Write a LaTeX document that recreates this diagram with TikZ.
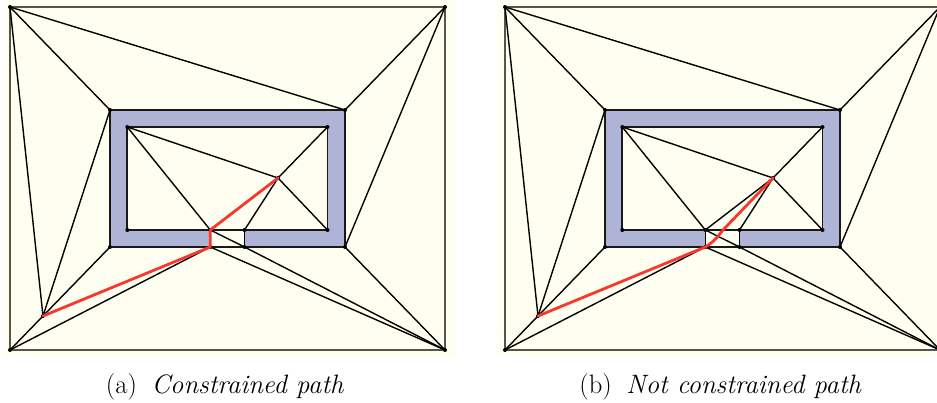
\documentclass[tikz,border=0pt]{standalone}
\usepackage{fontspec}
\definecolor{panelbg}{RGB}{255,255,241}
\definecolor{wallblue}{RGB}{175,180,214}
\definecolor{framegray}{RGB}{85,85,75}
\definecolor{pathred}{RGB}{250,55,45}
\tikzset{
  mesh/.style={draw=black,line width=1.4pt},
  wall/.style={draw=black!90,line width=1.8pt},
  frameline/.style={draw=framegray,line width=1.5pt},
  pathline/.style={draw=pathred,line width=2.8pt,line cap=round,line join=round},
  vtx/.style={circle,fill=black,inner sep=0pt,minimum size=4pt},
  caplabel/.style={inner sep=0pt,font=\fontsize{26.6pt}{30pt}\selectfont}
}
\newcommand{\meshpanel}{%
  \fill[panelbg] (3,-8) rectangle (455,357);
  \coordinate (TL) at (10,7); \coordinate (TR) at (445,7);
  \coordinate (BL) at (10,350); \coordinate (BR) at (445,350);
  \coordinate (P) at (43,316); \coordinate (M) at (278,178);
  \coordinate (OA) at (110,110); \coordinate (OB) at (345,110);
  \coordinate (OC) at (345,247); \coordinate (OD) at (110,247);
  \coordinate (IA) at (127.3,127); \coordinate (IB) at (327.5,127);
  \coordinate (IC) at (327.5,230); \coordinate (ID) at (127.3,230);
  \coordinate (DA) at (210.3,230); \coordinate (DB) at (244.5,230);
  \coordinate (DC) at (244.5,247); \coordinate (DD) at (210.3,247);
  \coordinate (RB) at (228,230);
  \fill[wallblue] (OA) -- (OB) -- (OC) -- (DC) -- (DB) -- (IC) -- (IB) -- (IA) -- (ID) -- (DA) -- (DD) -- (OD) -- cycle;
  \draw[frameline] (TL) -- (TR) -- (BR) -- (BL) -- cycle;
  \draw[wall] (OA) -- (OB) -- (OC) -- (OD) -- cycle;
  \draw[wall] (IA) -- (IB) -- (IC) -- (ID) -- cycle;
  \draw[mesh] (TL) -- (OA);
  \draw[mesh] (TL) -- (OB);
  \draw[mesh] (TL) -- (P);
  \draw[mesh] (TR) -- (OB);
  \draw[mesh] (TR) -- (OC);
  \draw[mesh] (OA) -- (P);
  \draw[mesh] (OD) -- (P);
  \draw[mesh] (BL) -- (P);
  \draw[mesh] (BL) -- (DD);
  \draw[mesh] (BR) -- (OC);
  \draw[mesh] (BR) -- (DC);
  \draw[mesh] (BR) -- (DD);
  \draw[mesh] (DA) -- (DC);
  \draw[mesh] (IA) -- (DA);
  \draw[mesh] (IA) -- (M);
  \draw[mesh] (IB) -- (M);
  \draw[mesh] (IC) -- (M);
  \draw[mesh] (DB) -- (M);
  \draw[mesh] (DB) -- (DC);
}
\newcommand{\meshdots}{%
  \foreach \v in {TL,TR,BL,BR,P,M,OA,OB,OC,OD,IA,IB,IC,ID,DA,DB,DC,DD}
    \node[vtx] at (\v) {};
}
\begin{document}
\begin{tikzpicture}[x=1pt,y=-1pt]
\useasboundingbox (0,0) rectangle (937,403);
\begin{scope}
  \clip (0,0) rectangle (937,403);
  \begin{scope}
    \meshpanel
    \draw[mesh] (DA) -- (DD);
    \meshdots
    \draw[pathline] (P) -- (DD) -- (DA) -- (M);
  \end{scope}
  \begin{scope}[xshift=495pt]
    \meshpanel
    \draw[mesh] (DA) -- (DD);
    \draw[mesh] (DA) -- (M);
    \meshdots
    \draw[pathline] (P) -- (DD) .. controls (219,242) and (224,235) .. (RB) -- (M);
  \end{scope}
\end{scope}
\node[caplabel] (capa) at (225,387) {(a)\hspace{0.55em}\textit{Constrained path}};
\node[caplabel] (capb) at (720.5,387) {(b)\hspace{0.55em}\textit{Not constrained path}};
\end{tikzpicture}
\end{document}
